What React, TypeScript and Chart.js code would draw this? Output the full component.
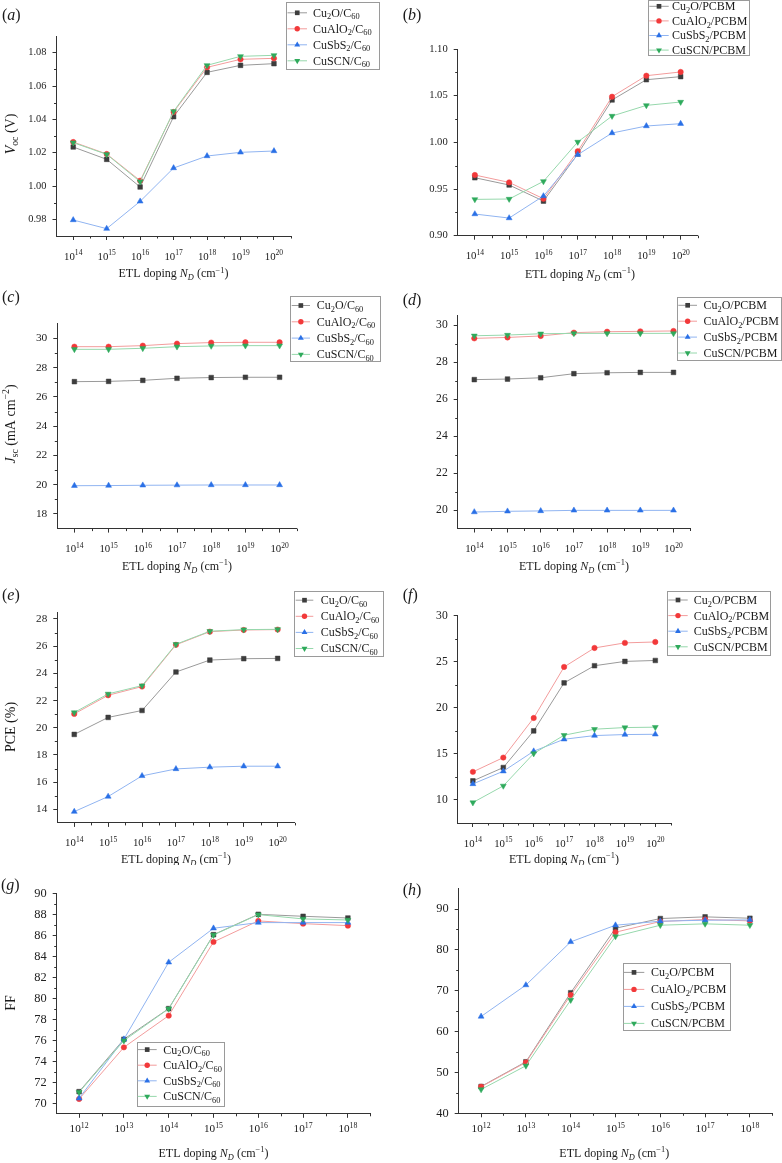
import React, { useEffect, useRef } from 'react';
import { Chart, registerables } from 'chart.js';

Chart.register(...registerables);

const FONT = '"Liberation Serif", "DejaVu Serif", serif';
const AXIS = '#333333';
const TEXT = '#1a1a1a';

// ---------- categories / tick labels ----------
const expHigh = [14, 15, 16, 17, 18, 19, 20];
const expLow = [12, 13, 14, 15, 16, 17, 18];
const labelsHigh = expHigh.map((e) => `10^{${e}}`);
const labelsLow = expLow.map((e) => `10^{${e}}`);

const namesC60 = ['Cu_2O/C_{60}', 'CuAlO_2/C_{60}', 'CuSbS_2/C_{60}', 'CuSCN/C_{60}'];
const namesPCBM = ['Cu_2O/PCBM', 'CuAlO_2/PCBM', 'CuSbS_2/PCBM', 'CuSCN/PCBM'];

const ticksVocC60 = [0.98, 1.0, 1.02, 1.04, 1.06, 1.08];
const ticksVocPCBM = [0.9, 0.95, 1.0, 1.05, 1.1];
const ticksJscC60 = [18, 20, 22, 24, 26, 28, 30];
const ticksJscPCBM = [20, 22, 24, 26, 28, 30];
const ticksPceC60 = [14, 16, 18, 20, 22, 24, 26, 28];
const ticksPcePCBM = [10, 15, 20, 25, 30];
const ticksFfC60 = [70, 72, 74, 76, 78, 80, 82, 84, 86, 88, 90];
const ticksFfPCBM = [40, 50, 60, 70, 80, 90];

// ---------- (a) Voc, C60 ----------
const vocC60Cu2O = [1.0234, 1.016, 0.9994, 1.0416, 1.0682, 1.0724, 1.0734];
const vocC60CuAlO2 = [1.0264, 1.0192, 1.0032, 1.0444, 1.0712, 1.076, 1.0766];
const vocC60CuSbS2 = [0.9796, 0.9744, 0.9908, 1.0108, 1.018, 1.0202, 1.021];
const vocC60CuSCN = [1.026, 1.019, 1.0026, 1.0448, 1.0724, 1.0778, 1.0784];

// ---------- (b) Voc, PCBM ----------
const vocPCBMCu2O = [0.9621, 0.9543, 0.9371, 0.9875, 1.0454, 1.0671, 1.0704];
const vocPCBMCuAlO2 = [0.965, 0.9571, 0.9396, 0.9904, 1.0489, 1.0714, 1.0754];
const vocPCBMCuSbS2 = [0.9232, 0.9189, 0.9425, 0.9868, 1.01, 1.0175, 1.02];
const vocPCBMCuSCN = [0.9389, 0.9393, 0.9582, 1.0004, 1.0282, 1.0396, 1.0432];

// ---------- (c) Jsc, C60 ----------
const jscC60Cu2O = [27.04, 27.06, 27.13, 27.27, 27.32, 27.34, 27.34];
const jscC60CuAlO2 = [29.43, 29.43, 29.5, 29.64, 29.71, 29.73, 29.73];
const jscC60CuSbS2 = [19.93, 19.94, 19.96, 19.97, 19.98, 19.98, 19.98];
const jscC60CuSCN = [29.25, 29.25, 29.32, 29.43, 29.48, 29.5, 29.5];

// ---------- (d) Jsc, PCBM ----------
const jscPCBMCu2O = [27.05, 27.08, 27.15, 27.37, 27.42, 27.44, 27.44];
const jscPCBMCuAlO2 = [29.28, 29.33, 29.41, 29.59, 29.64, 29.66, 29.68];
const jscPCBMCuSbS2 = [19.89, 19.93, 19.95, 19.98, 19.98, 19.98, 19.98];
const jscPCBMCuSCN = [29.42, 29.46, 29.53, 29.55, 29.55, 29.55, 29.55];

// ---------- (e) PCE, C60 ----------
const pceC60Cu2O = [19.51, 20.76, 21.27, 24.1, 24.98, 25.08, 25.1];
const pceC60CuAlO2 = [21.02, 22.39, 23.03, 26.1, 27.07, 27.19, 27.22];
const pceC60CuSbS2 = [13.83, 14.94, 16.46, 16.97, 17.1, 17.17, 17.17];
const pceC60CuSCN = [21.12, 22.49, 23.1, 26.14, 27.1, 27.22, 27.24];

// ---------- (f) PCE, PCBM ----------
const pcePCBMCu2O = [12.07, 13.52, 17.5, 22.71, 24.57, 25.04, 25.14];
const pcePCBMCuAlO2 = [13.05, 14.6, 18.9, 24.44, 26.5, 27.05, 27.15];
const pcePCBMCuSbS2 = [11.74, 13.12, 15.29, 16.59, 16.99, 17.1, 17.13];
const pcePCBMCuSCN = [9.72, 11.53, 15.04, 17.03, 17.68, 17.86, 17.9];

// ---------- (g) FF, C60 ----------
const ffC60Cu2O = [71.11, 76.1, 79.02, 86.06, 88.0, 87.81, 87.65];
const ffC60CuAlO2 = [70.41, 75.33, 78.35, 85.37, 87.37, 87.11, 86.92];
const ffC60CuSbS2 = [70.48, 76.1, 83.43, 86.67, 87.21, 87.21, 87.21];
const ffC60CuSCN = [71.05, 75.97, 79.0, 86.03, 87.97, 87.56, 87.46];

// ---------- (h) FF, PCBM ----------
const ffPCBMCu2O = [46.57, 52.61, 69.51, 85.3, 87.67, 88.08, 87.75];
const ffPCBMCuAlO2 = [46.49, 52.45, 68.94, 84.33, 86.94, 87.43, 87.1];
const ffPCBMCuSbS2 = [63.7, 71.39, 81.96, 86.04, 87.02, 87.26, 87.34];
const ffPCBMCuSCN = [45.84, 51.63, 67.72, 83.29, 86.04, 86.37, 86.04];

// ---------- styles ----------
const STYLES = [
  { marker: '#3d3d3d', line: '#9a9a9a', shape: 'rect', r: 3.3, rot: 0 },
  { marker: '#f2393a', line: '#f39c9c', shape: 'circle', r: 2.7, rot: 0 },
  { marker: '#2a70e6', line: '#90b4f1', shape: 'triangle', r: 3.4, rot: 0 },
  { marker: '#2faa5c', line: '#96d8ac', shape: 'triangle', r: 3.4, rot: 180 },
];

type Leg = { x: number; y: number; w: number; h: number; row0: number; dy: number; l1: number; l2: number; tx: number };
type Panel = {
  key: string;
  cx: number; cy: number; cw: number; ch: number;
  L: number; T: number; R: number; B: number;
  yMin: number; yMax: number; yTicks: number[]; dec: number;
  xLabels: string[];
  values: number[][];
  names: string[];
  yTitle?: string; yTitleX?: number; yTitleY?: number;
  xTitleX: number; xTitleY: number;
  tag: string; tagX: number; tagY: number;
  leg: Leg;
  yTickSize: number; xTickSize: number; xLabDy: number;
};

const PANELS: Panel[] = [
  {
    key: 'a', cx: 0, cy: 0, cw: 391, ch: 290, L: 56.5, T: 36, R: 290.7, B: 236,
    yMin: 0.97, yMax: 1.09, yTicks: ticksVocC60, dec: 2, xLabels: labelsHigh,
    values: [vocC60Cu2O, vocC60CuAlO2, vocC60CuSbS2, vocC60CuSCN], names: namesC60,
    yTitle: '*V*_{oc} (V)', yTitleX: 10, yTitleY: 134,
    xTitleX: 173.5, xTitleY: 273.5, tag: '(*a*)', tagX: 2, tagY: 15,
    leg: { x: 286, y: 2, w: 93, h: 67, row0: 12.8, dy: 16, l1: 287.5, l2: 307, tx: 313 },
    yTickSize: 10.4, xTickSize: 10.8, xLabDy: 20,
  },
  {
    key: 'b', cx: 391, cy: 0, cw: 391, ch: 290, L: 457.7, T: 49, R: 697.8, B: 235.7,
    yMin: 0.9, yMax: 1.1, yTicks: ticksVocPCBM, dec: 2, xLabels: labelsHigh,
    values: [vocPCBMCu2O, vocPCBMCuAlO2, vocPCBMCuSbS2, vocPCBMCuSCN], names: namesPCBM,
    xTitleX: 580, xTitleY: 274, tag: '(*b*)', tagX: 402.7, tagY: 15,
    leg: { x: 647.7, y: 0, w: 100.6, h: 55, row0: 6.3, dy: 14.6, l1: 649.3, l2: 668.7, tx: 672 },
    yTickSize: 10.6, xTickSize: 10.8, xLabDy: 20,
  },
  {
    key: 'c', cx: 0, cy: 290, cw: 391, ch: 285, L: 57.3, T: 323.7, R: 296.7, B: 528.6,
    yMin: 17, yMax: 31, yTicks: ticksJscC60, dec: 0, xLabels: labelsHigh,
    values: [jscC60Cu2O, jscC60CuAlO2, jscC60CuSbS2, jscC60CuSCN], names: namesC60,
    yTitle: '*J*_{sc} (mA cm^{−2})', yTitleX: 10, yTitleY: 424,
    xTitleX: 177, xTitleY: 566, tag: '(*c*)', tagX: 2, tagY: 297,
    leg: { x: 290, y: 296, w: 90, h: 65, row0: 305.5, dy: 16.3, l1: 291.7, l2: 310, tx: 316.7 },
    yTickSize: 11.4, xTickSize: 10.8, xLabDy: 20,
  },
  {
    key: 'd', cx: 391, cy: 290, cw: 391, ch: 285, L: 457.7, T: 315.8, R: 690.1, B: 528.5,
    yMin: 19, yMax: 30.5, yTicks: ticksJscPCBM, dec: 0, xLabels: labelsHigh,
    values: [jscPCBMCu2O, jscPCBMCuAlO2, jscPCBMCuSbS2, jscPCBMCuSCN], names: namesPCBM,
    xTitleX: 574, xTitleY: 566, tag: '(*d*)', tagX: 402.7, tagY: 300,
    leg: { x: 677, y: 296.7, w: 104, h: 62.6, row0: 305.3, dy: 15.9, l1: 678.3, l2: 697, tx: 703.5 },
    yTickSize: 11.6, xTickSize: 10.8, xLabDy: 20,
  },
  {
    key: 'e', cx: 0, cy: 575, cw: 391, ch: 290, L: 57.3, T: 612.2, R: 294.6, B: 822.9,
    yMin: 13, yMax: 28.5, yTicks: ticksPceC60, dec: 0, xLabels: labelsHigh,
    values: [pceC60Cu2O, pceC60CuAlO2, pceC60CuSbS2, pceC60CuSCN], names: namesC60,
    yTitle: 'PCE (%)', yTitleX: 10, yTitleY: 727,
    xTitleX: 176, xTitleY: 859, tag: '(*e*)', tagX: 2, tagY: 595,
    leg: { x: 294, y: 590.7, w: 88.7, h: 65.3, row0: 600.2, dy: 16.1, l1: 295.7, l2: 313.3, tx: 320.7 },
    yTickSize: 11.2, xTickSize: 10.8, xLabDy: 20,
  },
  {
    key: 'f', cx: 391, cy: 575, cw: 391, ch: 290, L: 457.7, T: 615.7, R: 670.5, B: 823,
    yMin: 7.5, yMax: 30, yTicks: ticksPcePCBM, dec: 0, xLabels: labelsHigh,
    values: [pcePCBMCu2O, pcePCBMCuAlO2, pcePCBMCuSbS2, pcePCBMCuSCN], names: namesPCBM,
    xTitleX: 564, xTitleY: 859, tag: '(*f*)', tagX: 402.7, tagY: 595,
    leg: { x: 667, y: 590.7, w: 103.3, h: 63.6, row0: 600, dy: 15.6, l1: 668.3, l2: 687.7, tx: 693.7 },
    yTickSize: 11.6, xTickSize: 10.8, xLabDy: 20,
  },
  {
    key: 'g', cx: 0, cy: 865, cw: 391, ch: 298, L: 56.7, T: 893.3, R: 370.3, B: 1113.8,
    yMin: 69, yMax: 90, yTicks: ticksFfC60, dec: 0, xLabels: labelsLow,
    values: [ffC60Cu2O, ffC60CuAlO2, ffC60CuSbS2, ffC60CuSCN], names: namesC60,
    yTitle: 'FF', yTitleX: 10, yTitleY: 1003,
    xTitleX: 213.5, xTitleY: 1153.3, tag: '(*g*)', tagX: 1, tagY: 885,
    leg: { x: 136.7, y: 1041.7, w: 87.3, h: 64.3, row0: 1049.6, dy: 15.6, l1: 137.7, l2: 156.7, tx: 163.3 },
    yTickSize: 12.4, xTickSize: 11.2, xLabDy: 15,
  },
  {
    key: 'h', cx: 391, cy: 865, cw: 391, ch: 298, L: 458.7, T: 888.6, R: 772.3, B: 1113.3,
    yMin: 40, yMax: 95, yTicks: ticksFfPCBM, dec: 0, xLabels: labelsLow,
    values: [ffPCBMCu2O, ffPCBMCuAlO2, ffPCBMCuSbS2, ffPCBMCuSCN], names: namesPCBM,
    xTitleX: 614.3, xTitleY: 1153.3, tag: '(*h*)', tagX: 402.7, tagY: 890,
    leg: { x: 622.7, y: 962.7, w: 106.6, h: 67.3, row0: 972.4, dy: 17, l1: 623.7, l2: 644.3, tx: 651 },
    yTickSize: 12.4, xTickSize: 11.2, xLabDy: 15,
  },
];

// ---------- rich text ----------
type Seg = { t: string; mode: number; it: boolean };
function parseRich(s: string, mode = 0, state = { it: false }): Seg[] {
  const out: Seg[] = [];
  let buf = '';
  const flush = () => {
    if (buf) { out.push({ t: buf, mode, it: state.it }); buf = ''; }
  };
  for (let i = 0; i < s.length; i++) {
    const c = s[i];
    if (c === '*') { flush(); state.it = !state.it; continue; }
    if ((c === '_' || c === '^') && i + 1 < s.length) {
      flush();
      const m = c === '_' ? 1 : 2;
      let inner: string;
      if (s[i + 1] === '{') {
        const j = s.indexOf('}', i + 2);
        inner = s.slice(i + 2, j);
        i = j;
      } else {
        inner = s[i + 1];
        i += 1;
      }
      out.push(...parseRich(inner, m, state));
      continue;
    }
    buf += c;
  }
  flush();
  return out;
}
function segFont(seg: Seg, size: number) {
  const sz = seg.mode ? size * 0.7 : size;
  return `${seg.it ? 'italic ' : ''}${sz}px ${FONT}`;
}
function drawRich(ctx: CanvasRenderingContext2D, text: string, x: number, y: number, size: number, align: 'left' | 'center' | 'right') {
  const segs = parseRich(text);
  let w = 0;
  const widths: number[] = [];
  for (const s of segs) {
    ctx.font = segFont(s, size);
    const mw = ctx.measureText(s.t).width;
    widths.push(mw);
    w += mw;
  }
  let cx = align === 'center' ? x - w / 2 : align === 'right' ? x - w : x;
  const base = y + size * 0.33;
  ctx.textBaseline = 'alphabetic';
  ctx.textAlign = 'left';
  ctx.fillStyle = TEXT;
  segs.forEach((s, i) => {
    ctx.font = segFont(s, size);
    const dy = s.mode === 1 ? size * 0.22 : s.mode === 2 ? -size * 0.4 : 0;
    ctx.fillText(s.t, cx, base + dy);
    cx += widths[i];
  });
}
function drawMarker(ctx: CanvasRenderingContext2D, st: typeof STYLES[number], x: number, y: number) {
  ctx.fillStyle = st.marker;
  ctx.beginPath();
  if (st.shape === 'rect') {
    const s = st.r * Math.SQRT1_2;
    ctx.rect(x - s, y - s, 2 * s, 2 * s);
  } else if (st.shape === 'circle') {
    ctx.arc(x, y, st.r, 0, Math.PI * 2);
  } else {
    let rad = (st.rot * Math.PI) / 180;
    ctx.moveTo(x + Math.sin(rad) * st.r, y - Math.cos(rad) * st.r);
    for (let k = 0; k < 2; k++) {
      rad += (2 * Math.PI) / 3;
      ctx.lineTo(x + Math.sin(rad) * st.r, y - Math.cos(rad) * st.r);
    }
    ctx.closePath();
  }
  ctx.fill();
}

const WY = 45;
const HX = 30;

function makeConfig(p: Panel): any {
  const minors: number[] = [];
  for (let i = 0; i + 1 < p.yTicks.length; i++) minors.push((p.yTicks[i] + p.yTicks[i + 1]) / 2);

  const decor = {
    id: 'decor',
    afterDraw(chart: any) {
      const ctx: CanvasRenderingContext2D = chart.ctx;
      const xs = chart.scales.x;
      const ys = chart.scales.y;
      const area = chart.chartArea;
      const ox = p.cx;
      const oy = p.cy;
      ctx.save();
      // minor ticks
      ctx.strokeStyle = AXIS;
      ctx.lineWidth = 1;
      ctx.beginPath();
      for (let k = 0; k < p.xLabels.length; k++) {
        const px = Math.round(xs.getPixelForValue(k + 0.5)) + 0.5;
        ctx.moveTo(px, area.bottom);
        ctx.lineTo(px, area.bottom + 2.5);
      }
      for (const v of minors) {
        const py = Math.round(ys.getPixelForValue(v)) + 0.5;
        ctx.moveTo(area.left, py);
        ctx.lineTo(area.left - 2.5, py);
      }
      ctx.stroke();
      // x tick labels
      p.xLabels.forEach((lab, i) => {
        drawRich(ctx, lab, xs.getPixelForValue(i), area.bottom + p.xLabDy, p.xTickSize, 'center');
      });
      // x title
      drawRich(ctx, 'ETL doping *N*_{*D*} (cm^{−1})', p.xTitleX - ox, p.xTitleY - oy, 12, 'center');
      // y title
      if (p.yTitle) {
        ctx.save();
        ctx.translate(p.yTitleX! - ox, p.yTitleY! - oy);
        ctx.rotate(-Math.PI / 2);
        drawRich(ctx, p.yTitle, 0, 0, 14, 'center');
        ctx.restore();
      }
      // panel tag
      drawRich(ctx, p.tag, p.tagX - ox, p.tagY - oy, 16, 'left');
      // legend
      const lg = p.leg;
      ctx.fillStyle = '#ffffff';
      ctx.fillRect(lg.x - ox, lg.y - oy, lg.w, lg.h);
      ctx.strokeStyle = '#9a9a9a';
      ctx.lineWidth = 1;
      ctx.strokeRect(Math.round(lg.x - ox) + 0.5, Math.round(lg.y - oy) + 0.5, Math.round(lg.w), Math.round(lg.h));
      p.names.forEach((nm, i) => {
        const st = STYLES[i];
        const ry = lg.row0 + i * lg.dy - oy;
        ctx.strokeStyle = st.line;
        ctx.lineWidth = 1;
        ctx.beginPath();
        ctx.moveTo(lg.l1 - ox, ry);
        ctx.lineTo(lg.l2 - ox, ry);
        ctx.stroke();
        drawMarker(ctx, st, (lg.l1 + lg.l2) / 2 - ox, ry);
        drawRich(ctx, nm, lg.tx - ox, ry, 12, 'left');
      });
      ctx.restore();
    },
  };

  const gridOpts = { display: true, drawOnChartArea: false, drawTicks: true, tickLength: 4, color: AXIS, lineWidth: 1, offset: false };
  const borderOpts = { display: true, color: AXIS, width: 1 };

  return {
    type: 'line',
    data: {
      labels: p.xLabels,
      datasets: p.values.map((vals, i) => ({
        label: p.names[i],
        data: vals,
        borderColor: STYLES[i].line,
        backgroundColor: STYLES[i].marker,
        borderWidth: 1,
        pointStyle: STYLES[i].shape,
        pointRotation: STYLES[i].rot,
        pointRadius: STYLES[i].r,
        pointBackgroundColor: STYLES[i].marker,
        pointBorderColor: STYLES[i].marker,
        pointBorderWidth: 0.5,
        tension: 0,
        fill: false,
        order: 4 - i,
      })),
    },
    options: {
      responsive: false,
      maintainAspectRatio: false,
      animation: false,
      devicePixelRatio: 1,
      events: [],
      layout: {
        autoPadding: false,
        padding: {
          left: p.L - p.cx - WY,
          top: p.T - p.cy,
          right: p.cx + p.cw - p.R,
          bottom: p.cy + p.ch - p.B - HX,
        },
      },
      plugins: { legend: { display: false }, tooltip: { enabled: false }, title: { display: false } },
      scales: {
        x: {
          type: 'category',
          offset: true,
          grid: gridOpts,
          border: borderOpts,
          ticks: { display: false },
          afterFit: (s: any) => { s.height = HX; },
        },
        y: {
          type: 'linear',
          min: p.yMin,
          max: p.yMax,
          grid: gridOpts,
          border: borderOpts,
          ticks: {
            padding: 6,
            color: '#222222',
            font: { family: FONT, size: p.yTickSize },
            callback: (v: number) => (p.dec ? Number(v).toFixed(p.dec) : String(Math.round(Number(v)))),
          },
          afterBuildTicks: (s: any) => { s.ticks = p.yTicks.map((v) => ({ value: v })); },
          afterFit: (s: any) => { s.width = WY; },
        },
      },
    },
    plugins: [decor],
  };
}

function PanelChart({ p }: { p: Panel }) {
  const ref = useRef<HTMLCanvasElement>(null);
  useEffect(() => {
    const c = ref.current;
    if (!c) return;
    const chart = new Chart(c, makeConfig(p));
    return () => chart.destroy();
  }, [p]);
  return (
    <canvas
      ref={ref}
      width={p.cw}
      height={p.ch}
      style={{ position: 'absolute', left: p.cx, top: p.cy, width: p.cw, height: p.ch }}
    />
  );
}

export default function App() {
  return (
    <div style={{ position: 'absolute', left: 0, top: 0, width: 782, height: 1163, background: '#ffffff', overflow: 'hidden' }}>
      {PANELS.map((p) => (
        <PanelChart key={p.key} p={p} />
      ))}
    </div>
  );
}
